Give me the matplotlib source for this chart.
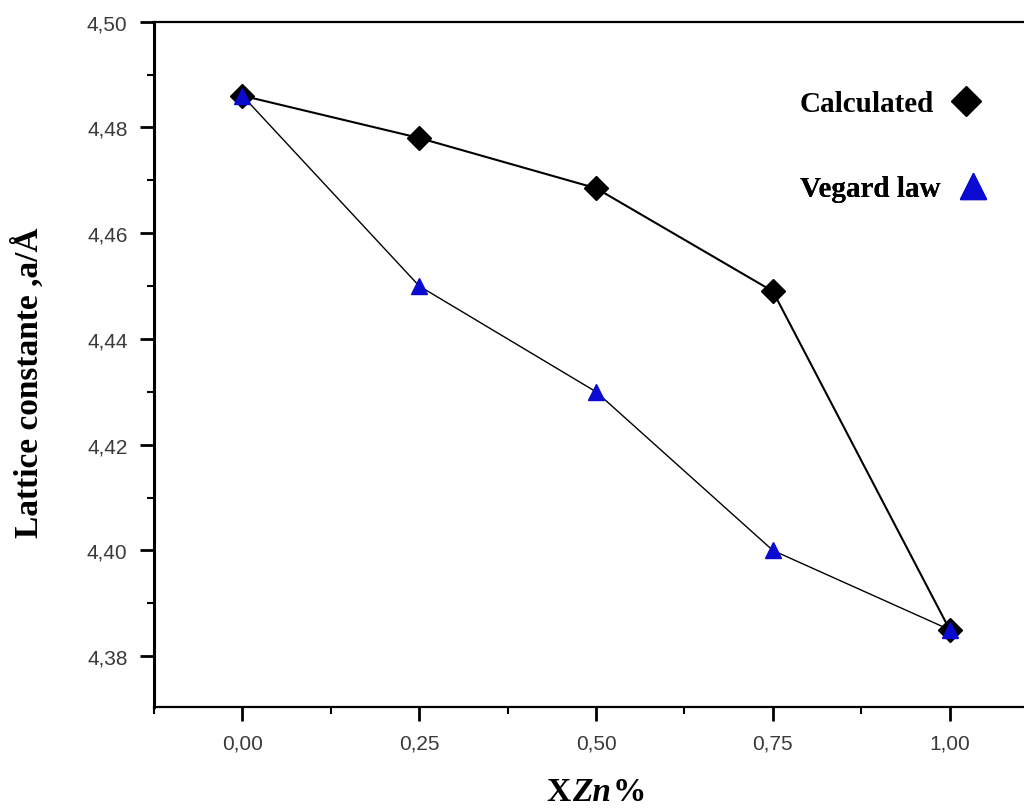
"""Lattice constant vs Zn fraction: calculated values against Vegard's law."""

import matplotlib

matplotlib.use("Agg")
import matplotlib.pyplot as plt
from matplotlib.lines import Line2D
from matplotlib.offsetbox import AnchoredOffsetbox, HPacker, TextArea
from matplotlib.ticker import MultipleLocator, FuncFormatter

X_ZN = [0.00, 0.25, 0.50, 0.75, 1.00]
CALCULATED = [4.486, 4.478, 4.4685, 4.449, 4.385]
VEGARD = [4.486, 4.450, 4.430, 4.400, 4.385]

BLUE = "#0a0ad0"
SERIF = "Liberation Serif"
SANS = "Liberation Sans"


def comma(fmt):
    return FuncFormatter(lambda v, _: format(v, fmt).replace(".", ","))


def xlabel_box(fig):
    # "X Zn %" with only Zn in italic, all bold serif
    parts = [("X", "normal"), ("Zn", "italic"), ("%", "normal")]
    areas = [TextArea(s, textprops=dict(fontfamily=SERIF, fontweight="bold",
                                        fontstyle=st, fontsize=24))
             for s, st in parts]
    box = AnchoredOffsetbox(loc="center", child=HPacker(children=areas, pad=0, sep=1),
                            frameon=False, pad=0, borderpad=0,
                            bbox_to_anchor=(596 / 1024, 1 - 793 / 812),
                            bbox_transform=fig.transFigure)
    fig.add_artist(box)


def main():
    fig = plt.figure(figsize=(10.24, 8.12), dpi=100)
    ax = fig.add_axes([0.1504, 0.1281, 0.8496, 0.8440])

    ax.plot(X_ZN, CALCULATED, color="black", linewidth=1.5, marker="D",
            markersize=12, markerfacecolor="black", markeredgecolor="black",
            zorder=3)
    ax.plot(X_ZN, VEGARD, color="black", linewidth=1.0, marker="^",
            markersize=12, markerfacecolor=BLUE, markeredgecolor=BLUE,
            zorder=4)

    ax.set_xlim(-0.125, 1.105)
    ax.set_ylim(4.3704, 4.50)
    ax.xaxis.set_major_locator(MultipleLocator(0.25))
    ax.xaxis.set_minor_locator(MultipleLocator(0.125))
    ax.yaxis.set_major_locator(MultipleLocator(0.02))
    ax.yaxis.set_minor_locator(MultipleLocator(0.01))
    ax.xaxis.set_major_formatter(comma(".2f"))
    ax.yaxis.set_major_formatter(comma(".2f"))

    ax.spines["right"].set_visible(False)
    ax.spines["left"].set_linewidth(2.2)
    ax.spines["bottom"].set_linewidth(1.6)
    ax.spines["top"].set_linewidth(1.6)
    ax.tick_params(which="both", direction="out", top=False, right=False,
                   colors="black", labelcolor="#3a3a3a")
    ax.tick_params(which="major", length=10, width=2, pad=9, labelsize=15)
    ax.tick_params(which="minor", length=5, width=1.5)
    for lab in ax.get_xticklabels() + ax.get_yticklabels():
        lab.set_fontfamily(SANS)

    fig.text(28 / 1024, 1 - 383 / 812, "Lattice constante ,a/Å",
             rotation=90, ha="center", va="center", fontfamily=SERIF,
             fontweight="bold", fontsize=24)
    xlabel_box(fig)

    entries = [
        ("Calculated", Line2D([], [], linestyle="none", marker="D",
                              markersize=15, color="black"), 0.900),
        ("Vegard law", Line2D([], [], linestyle="none", marker="^",
                              markersize=19, color=BLUE), 0.776),
    ]
    for label, handle, ytop in entries:
        leg = ax.legend([handle], [label], loc="upper left",
                        bbox_to_anchor=(0.7425, ytop), frameon=False,
                        markerfirst=False, borderaxespad=0, borderpad=0,
                        handlelength=0.9, handletextpad=0.65,
                        prop={"family": SERIF, "weight": "bold", "size": 21})
        ax.add_artist(leg)

    fig.savefig("out.png", dpi=100)
    plt.close(fig)


if __name__ == "__main__":
    main()
